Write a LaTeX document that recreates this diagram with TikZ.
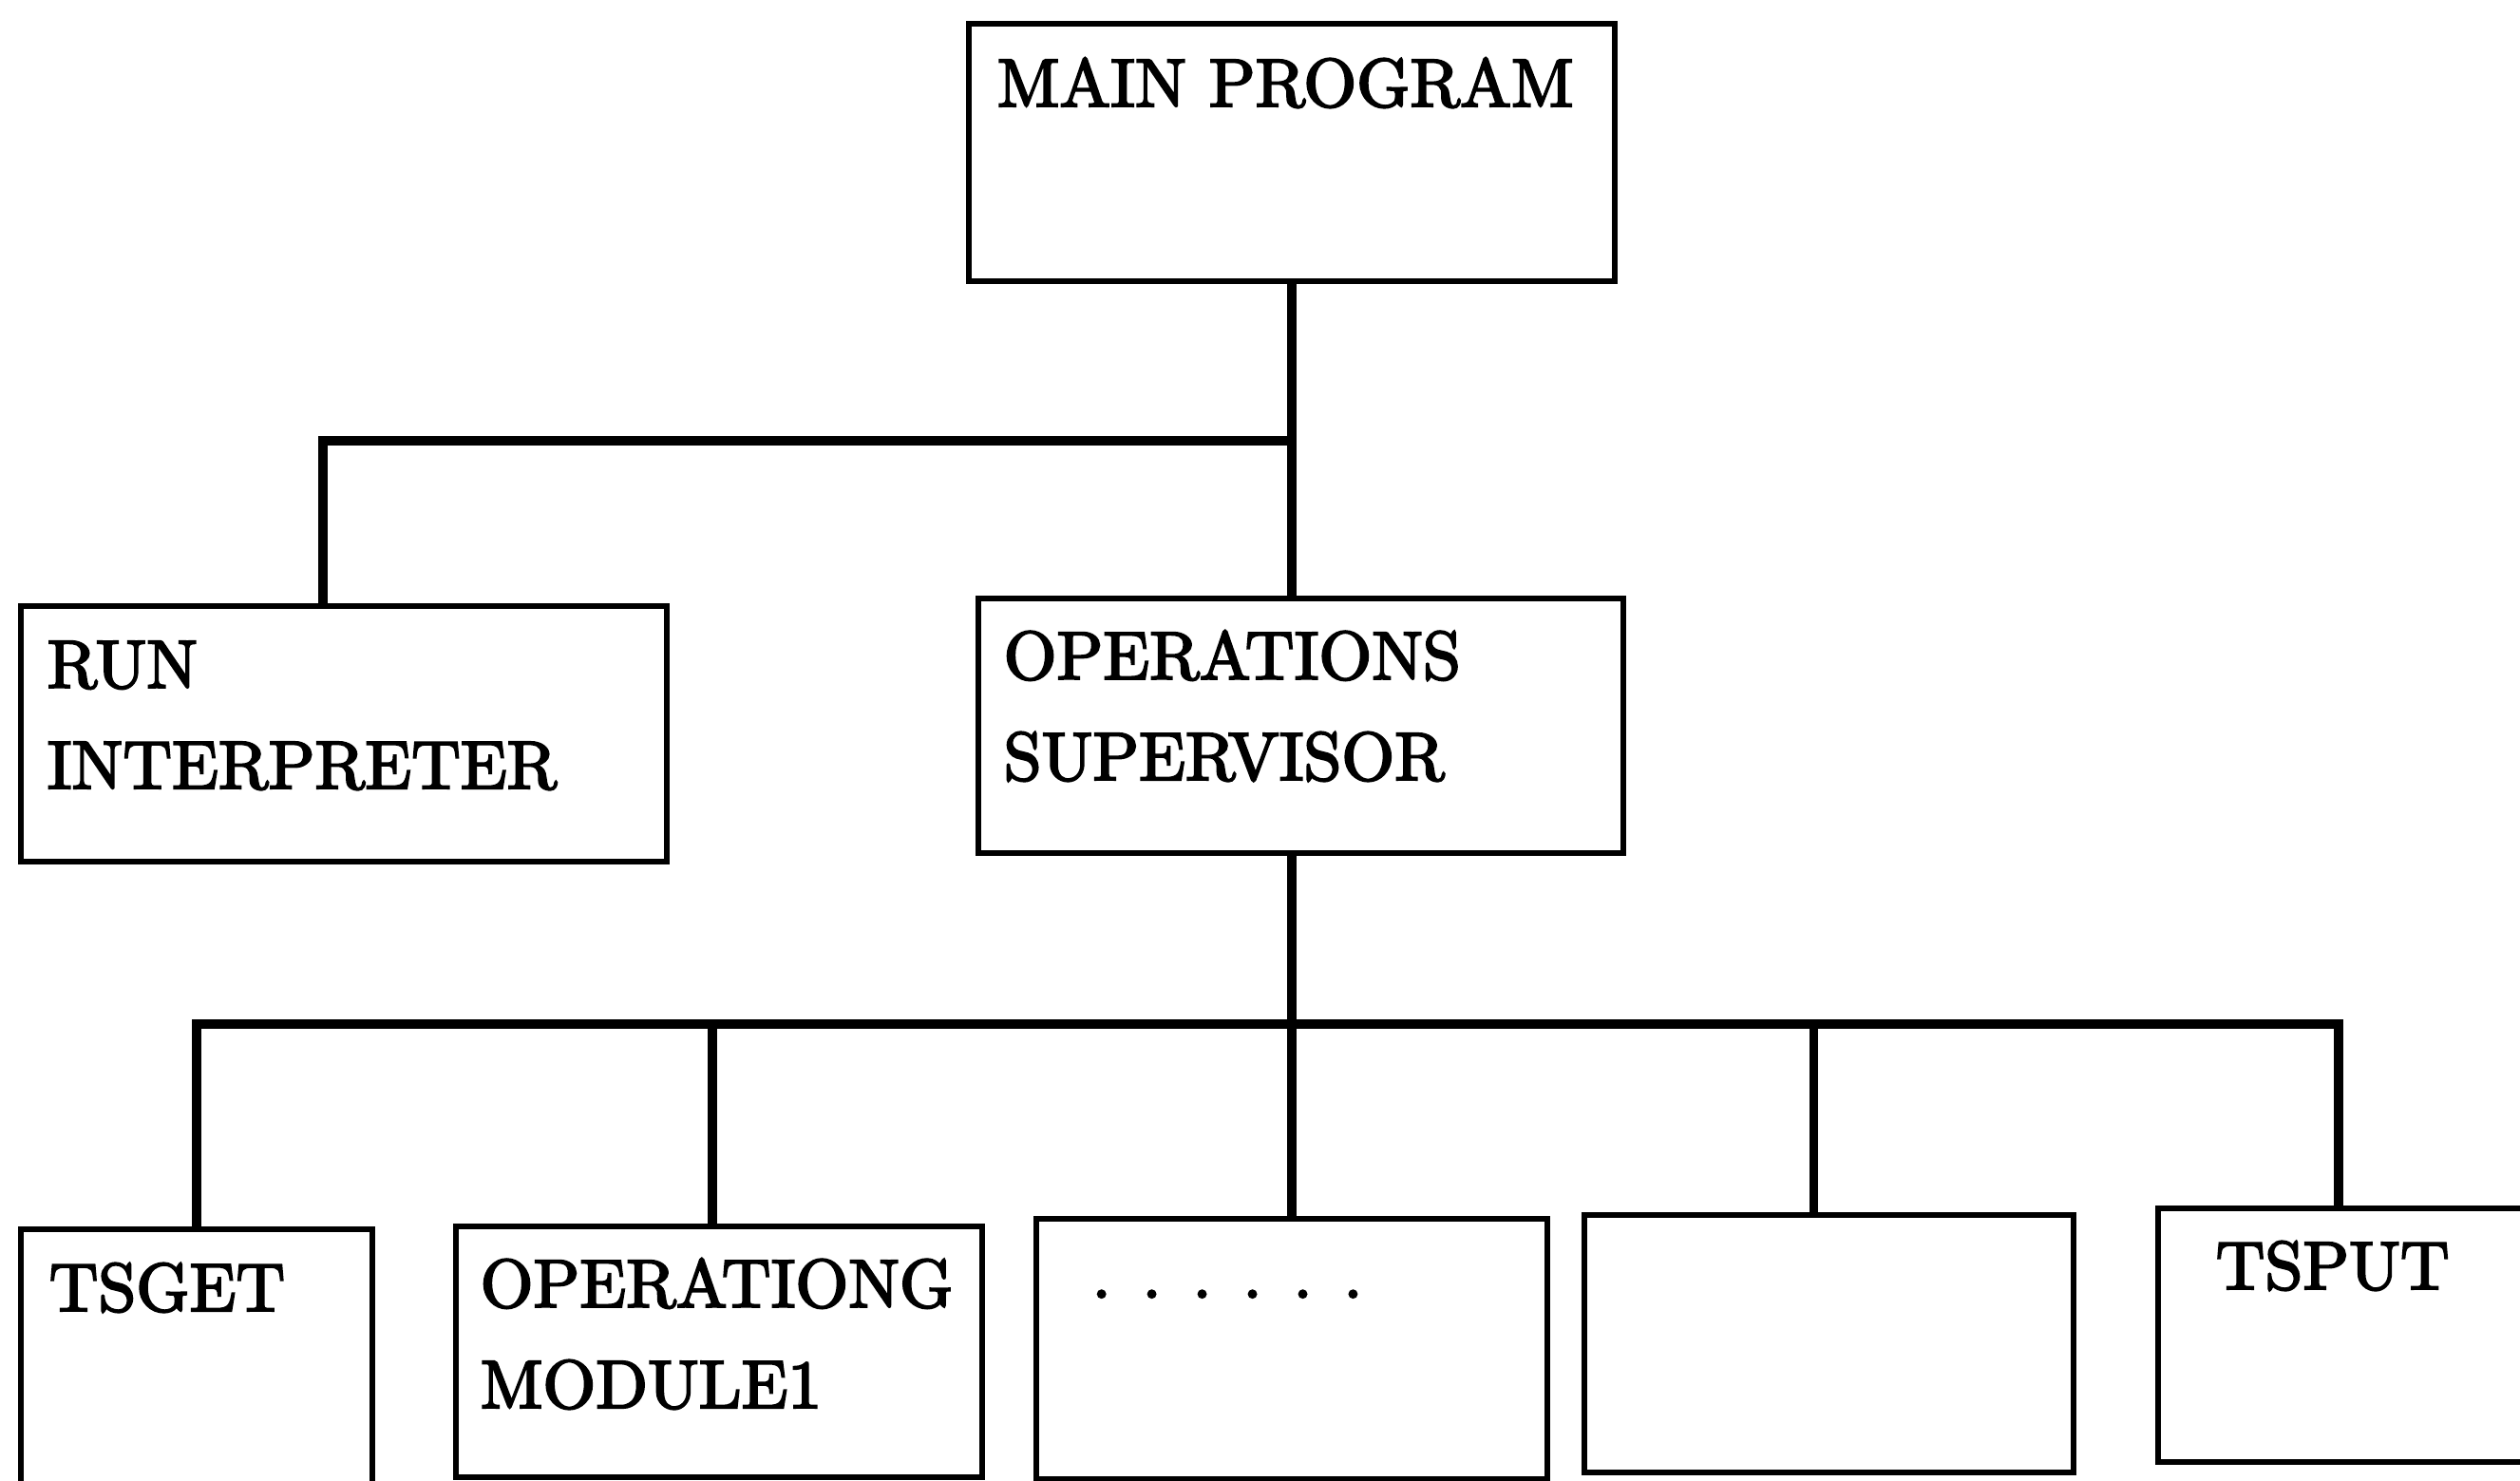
\documentclass[tikz,border=0pt]{standalone}
\usepackage{fontspec}
\newfontfamily\boxfont{lmroman10-regular.otf}[FakeBold=3]
\usepackage{tikz}

\begin{document}
\begin{tikzpicture}[
    box/.style={draw, line width=1.6pt, inner sep=0pt, outer sep=0pt, anchor=north west},
    txt/.style={font=\boxfont\fontsize{20.4}{30.2}\selectfont, inner sep=0pt, align=left, anchor=base west},
    link/.style={line width=2.8pt}
  ]
    \useasboundingbox (0,0) rectangle (26.53,15.58);
    \clip (0,0) rectangle (26.53,15.58);

    % top and second level
    \node[box, minimum width=6.80cm, minimum height=2.71cm] (main)   at (10.20,15.33) {};
    \node[box, minimum width=6.80cm, minimum height=2.69cm] (runint) at (0.22,9.20) {};
    \node[box, minimum width=6.79cm, minimum height=2.68cm] (opsup)  at (10.30,9.28) {};

    % modules under the supervisor
    \node[box, minimum width=3.70cm, minimum height=3.20cm] (tsget)   at (0.22,2.64) {};
    \node[box, minimum width=5.54cm, minimum height=2.64cm] (opmod1)  at (4.80,2.67) {};
    \node[box, minimum width=5.38cm, minimum height=2.74cm] (opdots)  at (10.91,2.75) {};
    \node[box, minimum width=5.15cm, minimum height=2.71cm] (opblank) at (16.68,2.79) {};
    \node[box, minimum width=4.20cm, minimum height=2.67cm] (tsput)   at (22.72,2.86) {};

    % labels (two-line ones sit on their last baseline)
    \node[txt] (main-t)   at ([shift={(0.29,-0.87)}]main.north west)   {MAIN PROGRAM};
    \node[txt] (runint-t) at ([shift={(0.27,-1.92)}]runint.north west) {RUN\\INTERPRETER};
    \node[txt] (opsup-t)  at ([shift={(0.26,-1.91)}]opsup.north west)  {OPERATIONS\\SUPERVISOR};
    \node[txt] (tsget-t)  at ([shift={(0.29,-0.86)}]tsget.north west)  {TSGET};
    \node[txt] (opmod1-t) at ([shift={(0.25,-1.91)}]opmod1.north west) {OPERATIONG\\MODULE1};
    \node[txt] (opdots-t) at ([shift={(0.58,-0.83)}]opdots.north west)
        {.\hspace{9.4pt}.\hspace{9.4pt}.\hspace{9.4pt}.\hspace{9.4pt}.\hspace{9.4pt}.};
    \node[txt] (tsput-t)  at ([shift={(0.60,-0.85)}]tsput.north west)  {TSPUT};

    % connecting lines
    \coordinate (upbus)  at (0,10.94);
    \coordinate (lowbus) at (0,4.80);
    \draw[link] (main.south) -- (main.south |- opsup.north);
    \draw[link] (main.south |- upbus) -| ([xshift=-2.2mm]runint.north);
    \draw[link] (opsup.south -| opdots.north) -- (opdots.north);
    \draw[link] (tsget.north) |- ([xshift=-2mm]tsput.north |- lowbus) -- ([xshift=-2mm]tsput.north);
    \draw[link] ([xshift=-0.7mm]opmod1.north |- lowbus) -- ([xshift=-0.7mm]opmod1.north);
    \draw[link] ([xshift=-1.6mm]opblank.north |- lowbus) -- ([xshift=-1.6mm]opblank.north);
\end{tikzpicture}
\end{document}
